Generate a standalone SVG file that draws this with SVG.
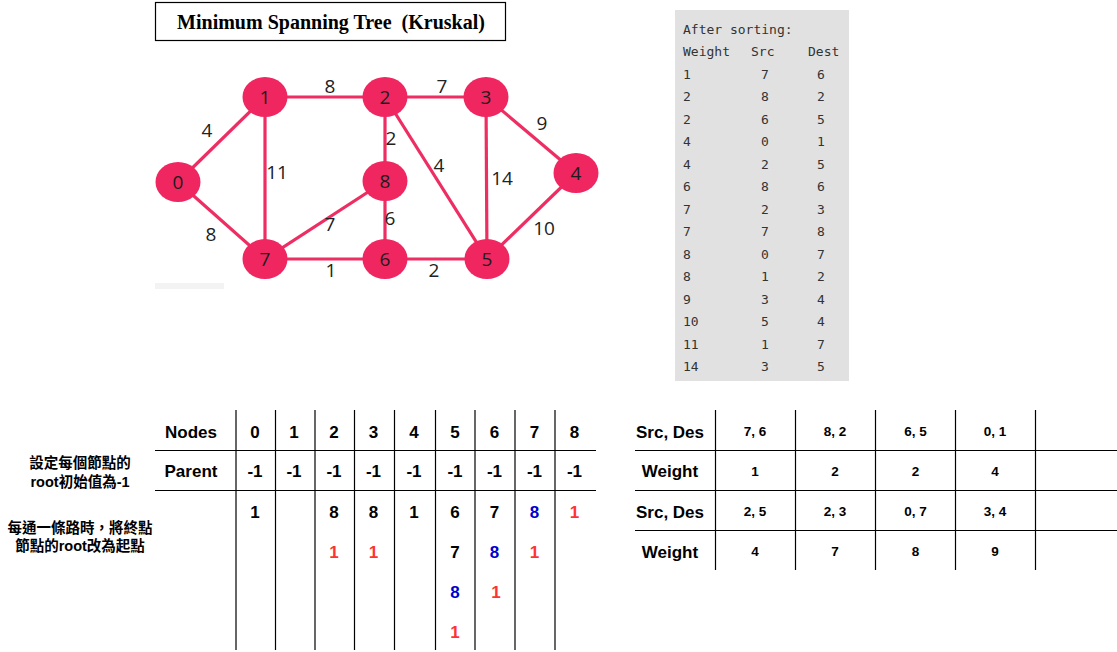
<svg xmlns="http://www.w3.org/2000/svg" width="1117" height="652" viewBox="0 0 1117 652">
<style>
.edge{stroke:#EE2D62;stroke-width:3.2;fill:none}
.node ellipse{fill:#EF2660}
.nl{font-family:"Open Sans","Liberation Sans",sans-serif;font-size:19px;fill:#1c1c1c;text-anchor:middle;dominant-baseline:central}
.el{font-family:"Open Sans","Liberation Sans",sans-serif;font-size:19px;fill:#222;text-anchor:middle;dominant-baseline:central}
.mono{font-family:"DejaVu Sans Mono","Liberation Mono",monospace;font-size:13px;fill:#333}
.tl{stroke:#000;stroke-width:1.2}
.th{font-family:"Liberation Sans",Arial,sans-serif;font-weight:bold;font-size:17px;fill:#000;text-anchor:middle;dominant-baseline:central}
.tv{font-family:"Liberation Sans",Arial,sans-serif;font-weight:bold;font-size:13.5px;fill:#000;text-anchor:middle;dominant-baseline:central}
.cj{font-family:"Liberation Sans","Noto Sans CJK TC",sans-serif;font-weight:bold;font-size:14.5px;fill:#000;text-anchor:middle;dominant-baseline:central}
.red{fill:#FF3333}
.blue{fill:#0000CC}
</style>
<rect width="1117" height="652" fill="#fff"/>
<g id="title">
<rect x="155.5" y="2.5" width="350" height="38" fill="#fff" stroke="#000" stroke-width="1.2"/>
<text x="331" y="29" font-family="Liberation Serif,serif" font-weight="bold" font-size="20" text-anchor="middle" xml:space="preserve">Minimum Spanning Tree  (Kruskal)</text>
</g>
<rect x="155" y="283" width="69" height="6" fill="#f3f3f3"/>
<g id="connectors">
<line class="edge" x1="178" y1="182" x2="265" y2="97"/>
<line class="edge" x1="178" y1="182" x2="265" y2="259"/>
<line class="edge" x1="265" y1="97" x2="385" y2="97"/>
<line class="edge" x1="265" y1="97" x2="265" y2="259"/>
<line class="edge" x1="385" y1="97" x2="486" y2="97"/>
<line class="edge" x1="385" y1="97" x2="385" y2="181"/>
<line class="edge" x1="385" y1="97" x2="487" y2="259"/>
<line class="edge" x1="486" y1="97" x2="576" y2="173"/>
<line class="edge" x1="486" y1="97" x2="487" y2="259"/>
<line class="edge" x1="576" y1="173" x2="487" y2="259"/>
<line class="edge" x1="385" y1="181" x2="265" y2="259"/>
<line class="edge" x1="385" y1="181" x2="385" y2="259"/>
<line class="edge" x1="265" y1="259" x2="385" y2="259"/>
<line class="edge" x1="385" y1="259" x2="487" y2="259"/>
<text class="el" x="330" y="86">8</text>
<text class="el" x="442" y="86">7</text>
<text class="el" x="207" y="130">4</text>
<text class="el" x="391" y="138">2</text>
<text class="el" x="277" y="172">11</text>
<text class="el" x="439" y="165">4</text>
<text class="el" x="502" y="178">14</text>
<text class="el" x="542" y="123">9</text>
<text class="el" x="330" y="224">7</text>
<text class="el" x="390" y="218">6</text>
<text class="el" x="211" y="234">8</text>
<text class="el" x="544" y="228">10</text>
<text class="el" x="331" y="270">1</text>
<text class="el" x="434" y="270">2</text>
</g>
<g id="node0" class="node"><ellipse cx="178" cy="182" rx="22.5" ry="20"/><text class="nl" x="178" y="182">0</text></g>
<g id="node1" class="node"><ellipse cx="265" cy="97" rx="22.5" ry="20"/><text class="nl" x="265" y="97">1</text></g>
<g id="node2" class="node"><ellipse cx="385" cy="97" rx="22.5" ry="20"/><text class="nl" x="385" y="97">2</text></g>
<g id="node3" class="node"><ellipse cx="486" cy="97" rx="22.5" ry="20"/><text class="nl" x="486" y="97">3</text></g>
<g id="node4" class="node"><ellipse cx="576" cy="173" rx="22.5" ry="20"/><text class="nl" x="576" y="173">4</text></g>
<g id="node5" class="node"><ellipse cx="487" cy="259" rx="22.5" ry="20"/><text class="nl" x="487" y="259">5</text></g>
<g id="node6" class="node"><ellipse cx="385" cy="259" rx="22.5" ry="20"/><text class="nl" x="385" y="259">6</text></g>
<g id="node7" class="node"><ellipse cx="265" cy="259" rx="22.5" ry="20"/><text class="nl" x="265" y="259">7</text></g>
<g id="node8" class="node"><ellipse cx="385" cy="181" rx="22.5" ry="20"/><text class="nl" x="385" y="181">8</text></g>
<g id="sorted">
<rect x="675" y="10" width="174" height="371" fill="#e1e1e1"/>
<text class="mono" x="683" y="33.5">After sorting:</text>
<text class="mono" y="56"><tspan x="683">Weight</tspan><tspan x="751">Src</tspan><tspan x="808">Dest</tspan></text>
<text class="mono" y="78.5"><tspan x="683">1</tspan><tspan x="761">7</tspan><tspan x="817">6</tspan></text>
<text class="mono" y="101"><tspan x="683">2</tspan><tspan x="761">8</tspan><tspan x="817">2</tspan></text>
<text class="mono" y="123.5"><tspan x="683">2</tspan><tspan x="761">6</tspan><tspan x="817">5</tspan></text>
<text class="mono" y="146"><tspan x="683">4</tspan><tspan x="761">0</tspan><tspan x="817">1</tspan></text>
<text class="mono" y="168.5"><tspan x="683">4</tspan><tspan x="761">2</tspan><tspan x="817">5</tspan></text>
<text class="mono" y="191"><tspan x="683">6</tspan><tspan x="761">8</tspan><tspan x="817">6</tspan></text>
<text class="mono" y="213.5"><tspan x="683">7</tspan><tspan x="761">2</tspan><tspan x="817">3</tspan></text>
<text class="mono" y="236"><tspan x="683">7</tspan><tspan x="761">7</tspan><tspan x="817">8</tspan></text>
<text class="mono" y="258.5"><tspan x="683">8</tspan><tspan x="761">0</tspan><tspan x="817">7</tspan></text>
<text class="mono" y="281"><tspan x="683">8</tspan><tspan x="761">1</tspan><tspan x="817">2</tspan></text>
<text class="mono" y="303.5"><tspan x="683">9</tspan><tspan x="761">3</tspan><tspan x="817">4</tspan></text>
<text class="mono" y="326"><tspan x="683">10</tspan><tspan x="761">5</tspan><tspan x="817">4</tspan></text>
<text class="mono" y="348.5"><tspan x="683">11</tspan><tspan x="761">1</tspan><tspan x="817">7</tspan></text>
<text class="mono" y="371"><tspan x="683">14</tspan><tspan x="761">3</tspan><tspan x="817">5</tspan></text>
</g>
<g id="parent-table">
<g class="tl">
<line x1="155" y1="450.5" x2="596" y2="450.5"/>
<line x1="155" y1="490.5" x2="596" y2="490.5"/>
<line x1="236" y1="410" x2="236" y2="650"/>
<line x1="275.5" y1="410" x2="275.5" y2="650"/>
<line x1="315" y1="410" x2="315" y2="650"/>
<line x1="354.5" y1="410" x2="354.5" y2="650"/>
<line x1="394.5" y1="410" x2="394.5" y2="650"/>
<line x1="435.5" y1="410" x2="435.5" y2="650"/>
<line x1="475" y1="410" x2="475" y2="650"/>
<line x1="515" y1="410" x2="515" y2="650"/>
<line x1="555" y1="410" x2="555" y2="650"/>
</g>
<text class="th" x="191" y="432">Nodes</text>
<text class="th" x="191" y="471">Parent</text>
<text class="th" y="432"><tspan x="255">0</tspan><tspan x="294">1</tspan><tspan x="334">2</tspan><tspan x="373.5">3</tspan><tspan x="414">4</tspan><tspan x="455">5</tspan><tspan x="494.5">6</tspan><tspan x="534.5">7</tspan><tspan x="574.5">8</tspan></text>
<text class="th" y="471"><tspan x="255">-1</tspan><tspan x="294">-1</tspan><tspan x="334">-1</tspan><tspan x="373.5">-1</tspan><tspan x="414">-1</tspan><tspan x="455">-1</tspan><tspan x="494.5">-1</tspan><tspan x="534.5">-1</tspan><tspan x="574.5">-1</tspan></text>
<text class="th" x="255" y="512">1</text>
<text class="th" x="334" y="512">8</text>
<text class="th" x="373.5" y="512">8</text>
<text class="th" x="414" y="512">1</text>
<text class="th" x="455" y="512">6</text>
<text class="th" x="494.5" y="512">7</text>
<text class="th blue" x="534.5" y="512">8</text>
<text class="th red" x="574.5" y="512">1</text>
<text class="th red" x="334" y="552">1</text>
<text class="th red" x="373.5" y="552">1</text>
<text class="th" x="455" y="552">7</text>
<text class="th blue" x="494.5" y="552">8</text>
<text class="th red" x="534.5" y="552">1</text>
<text class="th blue" x="455" y="592">8</text>
<text class="th red" x="496" y="592">1</text>
<text class="th red" x="455" y="632">1</text>
<text class="cj" x="80" y="463">設定每個節點的</text>
<text class="cj" x="80" y="482">root初始值為-1</text>
<text class="cj" x="80" y="528">每通一條路時，將終點</text>
<text class="cj" x="80" y="546">節點的root改為起點</text>
</g>
<g id="edge-table">
<g class="tl">
<line x1="635" y1="450.5" x2="1117" y2="450.5"/>
<line x1="635" y1="490.5" x2="1117" y2="490.5"/>
<line x1="635" y1="530.5" x2="1117" y2="530.5"/>
<line x1="715.5" y1="410" x2="715.5" y2="570"/>
<line x1="795.5" y1="410" x2="795.5" y2="570"/>
<line x1="875.5" y1="410" x2="875.5" y2="570"/>
<line x1="955.5" y1="410" x2="955.5" y2="570"/>
<line x1="1035.5" y1="410" x2="1035.5" y2="570"/>
</g>
<text class="th" x="670" y="432">Src, Des</text>
<text class="th" x="670" y="471">Weight</text>
<text class="th" x="670" y="512">Src, Des</text>
<text class="th" x="670" y="552">Weight</text>
<text class="tv" y="431"><tspan x="755">7, 6</tspan><tspan x="835">8, 2</tspan><tspan x="915.5">6, 5</tspan><tspan x="995">0, 1</tspan></text>
<text class="tv" y="471"><tspan x="755">1</tspan><tspan x="835">2</tspan><tspan x="915.5">2</tspan><tspan x="995">4</tspan></text>
<text class="tv" y="511"><tspan x="755">2, 5</tspan><tspan x="835">2, 3</tspan><tspan x="915.5">0, 7</tspan><tspan x="995">3, 4</tspan></text>
<text class="tv" y="551"><tspan x="755">4</tspan><tspan x="835">7</tspan><tspan x="915.5">8</tspan><tspan x="995">9</tspan></text>
</g>
</svg>
